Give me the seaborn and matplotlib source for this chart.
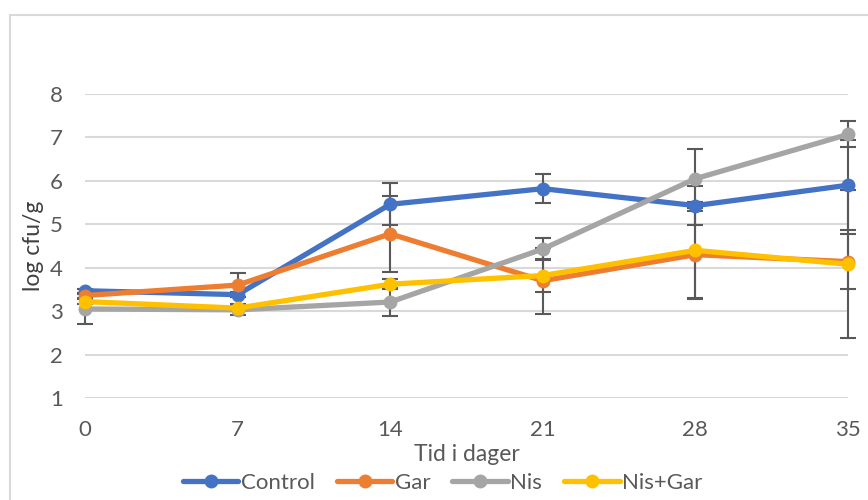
import numpy as np
import pandas as pd
import seaborn as sns
from matplotlib import pyplot as plt
from matplotlib.lines import Line2D
from matplotlib.patches import Rectangle

# values (log cfu/g per day)
days = [0, 7, 14, 21, 28, 35]
series = ["Control", "Gar", "Nis", "Nis+Gar"]
control = [3.47, 3.38, 5.46, 5.82, 5.43, 5.90]
gar = [3.36, 3.60, 4.78, 3.70, 4.30, 4.14]
nis = [3.05, 3.03, 3.21, 4.43, 6.05, 7.07]
nis_gar = [3.22, 3.07, 3.62, 3.82, 4.40, 4.08]

# error bar half-widths
control_err = [0.05, 0.05, 0.48, 0.34, 0.45, 1.04]
gar_err = [0.05, 0.27, 0.88, 0.76, 1.00, 0.64]
nis_err = [0.35, 0.13, 0.33, 0.25, 0.68, 0.30]
nis_gar_err = [0.05, 0.05, 0.12, 0.37, 1.12, 1.70]

colors = ["#4472C4", "#ED7D31", "#A5A5A5", "#FFC000"]

sns.set_theme(style="white")
plt.rcParams['font.family'] = ['Lato', 'DejaVu Sans']

# long form table for seaborn
df = pd.DataFrame({
    "Tid": days * 4,
    "logcfu": control + gar + nis + nis_gar,
    "err": control_err + gar_err + nis_err + nis_gar_err,
    "Serie": [s for s in series for _ in days],
})

fig = plt.figure(figsize=(8.68, 5.0), dpi=100)
ax = fig.add_axes([85 / 868, 1 - 398 / 500, (848 - 85) / 868, (398 - 94) / 500])

# chart area border (cut off at right/bottom like the reference)
fig.patches.append(Rectangle((10 / 868, -0.1), 1.2, 1 - 15 / 500 + 0.1,
                             transform=fig.transFigure, fill=False,
                             edgecolor="#D9D9D9", linewidth=1.5, zorder=0))

# error bars first so the markers sit on top
ax.errorbar(df["Tid"], df["logcfu"], yerr=df["err"], fmt="none",
            ecolor="#595959", elinewidth=1.5, capsize=6, capthick=1.5,
            zorder=2, clip_on=False)

sns.lineplot(data=df, x="Tid", y="logcfu", hue="Serie", palette=colors,
             marker="o", markersize=10, markeredgewidth=0, linewidth=3.8,
             legend=False, ax=ax, zorder=3, clip_on=False)
for ln in ax.lines:
    ln.set_clip_on(False)

ax.set_xlim(0, 35)
ax.set_ylim(1, 8)
ax.set_xticks(days)
ax.set_yticks(range(1, 9))
ax.yaxis.grid(True, color="#D9D9D9", linewidth=1.5)
ax.set_axisbelow(True)
for sp in ax.spines.values():
    sp.set_visible(False)
ax.tick_params(axis="both", length=0, labelsize=16, colors="#595959")
ax.tick_params(axis="y", pad=16)
ax.tick_params(axis="x", pad=16)

ax.set_xlabel("Tid i dager", fontsize=16.5, color="#595959", labelpad=3)
ax.set_ylabel("log cfu/g", fontsize=16.5, color="#404040", labelpad=4)

handles = [Line2D([0], [0], color=c, linewidth=3.8, marker="o", markersize=10,
                  markeredgewidth=0) for c in colors]
fig.legend(handles, series, loc="center", bbox_to_anchor=(0.510, 1 - 483 / 500),
           ncol=4, frameon=False, fontsize=16, handlelength=2.5,
           handletextpad=0.1, columnspacing=1.0, labelcolor="#595959")

fig.savefig("out.png", dpi=100)
